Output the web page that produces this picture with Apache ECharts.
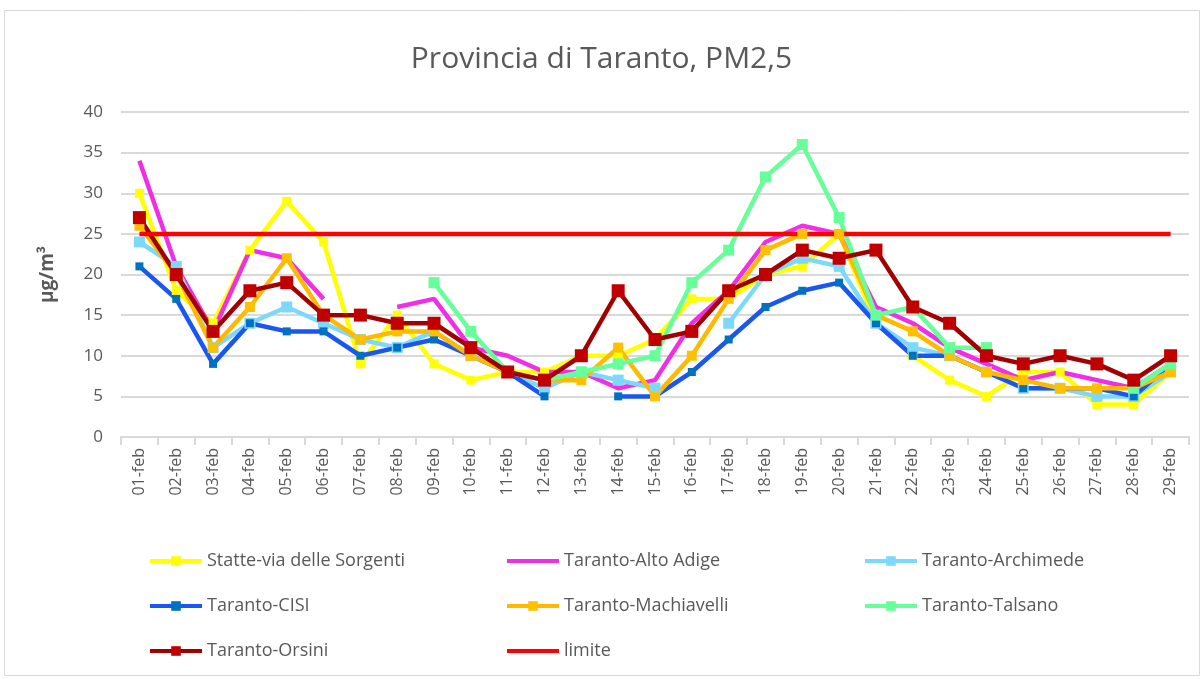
<!DOCTYPE html>
<html lang="it">
<head>
  <meta charset="UTF-8">
  <title>Provincia di Taranto, PM2,5</title>
  <script src="https://cdn.jsdelivr.net/npm/echarts@6/dist/echarts.min.js"></script>
  <style>
    html, body { margin: 0; padding: 0; background: #fff; }
    #chart { width: 1203px; height: 679px; }
  </style>
</head>
<body>
  <div id="chart"></div>
  <script>
    // giorni
    var giorni = ['01-feb','02-feb','03-feb','04-feb','05-feb','06-feb','07-feb','08-feb','09-feb','10-feb',
      '11-feb','12-feb','13-feb','14-feb','15-feb','16-feb','17-feb','18-feb','19-feb','20-feb',
      '21-feb','22-feb','23-feb','24-feb','25-feb','26-feb','27-feb','28-feb','29-feb'];

    // valori PM2,5 (µg/m3), null = dato mancante
    var statte = [30,18,14,23,29,24,9,15,9,7,8,8,10,10,12,17,17,20,21,25,14,10,7,5,8,8,4,4,8];
    var altoAdige = [34,21,13,23,22,17,null,16,17,11,10,8,8,6,7,14,18,24,26,25,16,14,11,9,7,8,7,6,9];
    var archimede = [24,21,11,14,16,14,12,11,13,10,8,6,8,7,6,null,14,20,22,21,14,11,10,8,6,6,5,5,8];
    var cisi = [21,17,9,14,13,13,10,11,12,10,8,5,null,5,5,8,12,16,18,19,14,10,10,8,6,6,6,5,9];
    var machiavelli = [26,20,11,16,22,15,12,13,13,10,8,7,7,11,5,10,17,23,25,25,15,13,10,8,7,6,6,6,8];
    var talsano = [null,null,null,null,null,null,null,null,19,13,8,7,8,9,10,19,23,32,36,27,15,16,11,11,null,null,null,6,9];
    var orsini = [27,20,13,18,19,15,15,14,14,11,8,7,10,18,12,13,18,20,23,22,23,16,14,10,9,10,9,7,10];
    var limite = giorni.map(function () { return 25; });

    var yTicks = [0, 5, 10, 15, 20, 25, 30, 35, 40];

    var grigio = '#595959';
    var font = 'Open Sans';
    // icona di legenda solo linea (serie senza marker)
    var soloLinea = 'path://M0,0 L52,0 L52,4 L0,4 Z';

    function serie(nome, dati, linea, marker, size) {
      return {
        name: nome,
        type: 'line',
        data: dati,
        symbol: size ? 'rect' : 'none',
        symbolSize: size || 0,
        showSymbol: !!size,
        lineStyle: { color: linea, width: 4.5 },
        itemStyle: { color: marker },
        emphasis: { disabled: true },
        animation: false
      };
    }

    var legendBase = {
      orient: 'vertical',
      top: 547,
      itemWidth: 52,
      itemHeight: 12,
      itemGap: 27,
      lineStyle: { width: 4 },
      textStyle: { color: grigio, fontSize: 18, fontFamily: font }
    };

    var chart = echarts.init(document.getElementById('chart'));
    chart.setOption({
      backgroundColor: '#fff',
      animation: false,
      title: {
        text: 'Provincia di Taranto, PM2,5',
        left: 'center',
        top: 39,
        textStyle: { color: grigio, fontSize: 30, fontWeight: 'normal', fontFamily: font }
      },
      graphic: [{
        type: 'rect',
        shape: { x: 4.5, y: 10.5, width: 1195, height: 665 },
        style: { fill: 'none', stroke: '#d9d9d9', lineWidth: 1 },
        silent: true
      }],
      legend: [
        Object.assign({}, legendBase, { left: 143, data: ['Statte-via delle Sorgenti', 'Taranto-CISI', 'Taranto-Orsini'] }),
        Object.assign({}, legendBase, { left: 500, data: [
          { name: 'Taranto-Alto Adige', icon: soloLinea },
          'Taranto-Machiavelli',
          { name: 'limite', icon: soloLinea }
        ] }),
        Object.assign({}, legendBase, { left: 858, data: ['Taranto-Archimede', 'Taranto-Talsano'] })
      ],
      grid: { left: 121, right: 14, top: 112, bottom: 242 },
      xAxis: {
        type: 'category',
        data: giorni,
        boundaryGap: true,
        axisLine: { lineStyle: { color: '#d9d9d9', width: 2 } },
        axisTick: { show: true, length: 8, lineStyle: { color: '#d9d9d9', width: 2 } },
        axisLabel: { rotate: 90, color: grigio, fontSize: 16, fontFamily: font, margin: 11, interval: 0 },
        splitLine: { show: false }
      },
      yAxis: {
        type: 'value',
        min: yTicks[0],
        max: yTicks[yTicks.length - 1],
        interval: 5,
        name: 'µg/m³',
        nameLocation: 'middle',
        nameGap: 64,
        nameRotate: 90,
        nameTextStyle: { color: grigio, fontSize: 19, fontWeight: 'bold', fontFamily: font },
        axisLine: { show: false },
        axisTick: { show: false },
        axisLabel: { color: grigio, fontSize: 17, fontFamily: font, margin: 18 },
        splitLine: { lineStyle: { color: '#d9d9d9', width: 2 } }
      },
      series: [
        serie('Statte-via delle Sorgenti', statte, '#ffff00', '#ffff00', 9),
        serie('Taranto-Alto Adige', altoAdige, '#f02ee6', '#f02ee6', 0),
        serie('Taranto-Archimede', archimede, '#7dd9fc', '#7dd9fc', 11),
        serie('Taranto-CISI', cisi, '#1a56f0', '#0070c0', 8),
        serie('Taranto-Machiavelli', machiavelli, '#ffb900', '#ffc000', 10),
        serie('Taranto-Talsano', talsano, '#66ff99', '#66ff99', 11),
        serie('Taranto-Orsini', orsini, '#a00000', '#c00000', 13),
        serie('limite', limite, '#ff0000', '#ff0000', 0)
      ]
    });
  </script>
</body>
</html>
